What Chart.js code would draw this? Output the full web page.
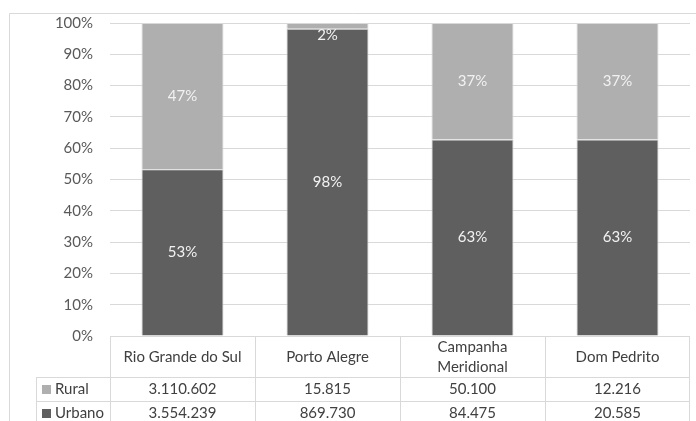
<!DOCTYPE html>
<html lang="pt">
<head>
  <meta charset="UTF-8" />
  <title>Urbano x Rural</title>
  <script src="https://cdn.jsdelivr.net/npm/chart.js"></script>
  <style>
    html, body { margin: 0; padding: 0; background: #fff; }
    #wrap { width: 696px; height: 421px; position: relative; }
  </style>
</head>
<body>
  <div id="wrap"><canvas id="chart" width="696" height="421"></canvas></div>

  <script>
    // values
    const categories = ["Rio Grande do Sul", "Porto Alegre", ["Campanha", "Meridional"], "Dom Pedrito"];
    const urbanoPct = [53.3, 98.2, 62.8, 62.8];
    const ruralPct = [46.7, 1.8, 37.2, 37.2];
    const ruralCount = ["3.110.602", "15.815", "50.100", "12.216"];
    const urbanoCount = ["3.554.239", "869.730", "84.475", "20.585"];
    const yTicks = [0, 10, 20, 30, 40, 50, 60, 70, 80, 90, 100];

    const FONT = "Lato, 'Open Sans', sans-serif";
    const GRID = "#d9d9d9";
    const TEXT = "#595959";
    const tableRows = [
      { label: "Rural", color: "#afafaf", values: ruralCount },
      { label: "Urbano", color: "#5f5f5f", values: urbanoCount }
    ];

    // frame + data table + bar labels
    const extras = {
      id: "extras",
      beforeDraw(chart) {
        const ctx = chart.ctx;
        ctx.save();
        ctx.strokeStyle = GRID;
        ctx.lineWidth = 1;
        ctx.beginPath();
        ctx.moveTo(9.5, 430);
        ctx.lineTo(9.5, 13.5);
        ctx.lineTo(700, 13.5);
        ctx.stroke();
        ctx.restore();
      },
      afterDraw(chart) {
        const ctx = chart.ctx;
        const x = chart.scales.x;
        const area = chart.chartArea;
        const half = (area.right - area.left) / categories.length / 2;
        const top = area.bottom;
        const rowY = [top, 377, 401, 425];
        const legendLeft = 36;

        ctx.save();
        ctx.strokeStyle = GRID;
        ctx.lineWidth = 1;
        ctx.beginPath();
        // horizontal lines
        ctx.moveTo(area.left, rowY[0] + 0.5); ctx.lineTo(area.right, rowY[0] + 0.5);
        ctx.moveTo(legendLeft, rowY[1] + 0.5); ctx.lineTo(area.right, rowY[1] + 0.5);
        ctx.moveTo(legendLeft, rowY[2] + 0.5); ctx.lineTo(area.right, rowY[2] + 0.5);
        // vertical lines
        ctx.moveTo(legendLeft + 0.5, rowY[1]); ctx.lineTo(legendLeft + 0.5, rowY[3]);
        categories.forEach((c, i) => {
          const l = Math.round(x.getPixelForValue(i) - half) + 0.5;
          ctx.moveTo(l, rowY[0]); ctx.lineTo(l, rowY[3]);
        });
        const r = Math.round(area.right) - 0.5;
        ctx.moveTo(r, rowY[0]); ctx.lineTo(r, rowY[3]);
        ctx.stroke();

        ctx.font = "15px " + FONT;
        ctx.fillStyle = "#404040";
        ctx.textAlign = "center";
        ctx.textBaseline = "middle";
        categories.forEach((c, i) => {
          const cx = x.getPixelForValue(i);
          const lines = Array.isArray(c) ? c : [c];
          const mid = (rowY[0] + rowY[1]) / 2 + 1;
          lines.forEach((t, k) => {
            ctx.fillText(t, cx, mid + (k - (lines.length - 1) / 2) * 20);
          });
        });
        tableRows.forEach((row, j) => {
          const cy = (rowY[j + 1] + rowY[j + 2]) / 2 + 0.5;
          ctx.fillStyle = row.color;
          ctx.fillRect(42, cy - 4.5, 9, 9);
          ctx.fillStyle = "#404040";
          ctx.textAlign = "left";
          ctx.fillText(row.label, 55, cy);
          ctx.textAlign = "center";
          row.values.forEach((v, i) => ctx.fillText(v, x.getPixelForValue(i), cy));
        });

        // percentage labels inside bars
        ctx.fillStyle = "#f2f2f2";
        chart.data.datasets.forEach((ds, d) => {
          chart.getDatasetMeta(d).data.forEach((bar, i) => {
            let cy = (bar.y + bar.base) / 2;
            cy = Math.max(cy, area.top + 12);
            ctx.fillText(Math.round(ds.data[i]) + "%", bar.x, cy);
          });
        });
        ctx.restore();
      }
    };

    new Chart(document.getElementById("chart"), {
      type: "bar",
      data: {
        labels: categories,
        datasets: [
          { label: "Urbano", data: urbanoPct, backgroundColor: "#5f5f5f", borderColor: "#d0d0d0", borderWidth: 1,
            categoryPercentage: 1, barPercentage: 0.566 },
          { label: "Rural", data: ruralPct, backgroundColor: "#afafaf", borderColor: "#d9d9d9", borderWidth: 1,
            categoryPercentage: 1, barPercentage: 0.566 }
        ]
      },
      options: {
        responsive: false,
        animation: false,
        layout: { padding: { left: 10, right: 6, top: 23, bottom: 0 } },
        plugins: { legend: { display: false }, tooltip: { enabled: false } },
        scales: {
          x: {
            stacked: true,
            grid: { display: false },
            border: { display: false },
            ticks: { display: false },
            afterFit: s => { s.height = 85; }
          },
          y: {
            stacked: true,
            min: 0,
            max: 100,
            afterBuildTicks: s => { s.ticks = yTicks.map(v => ({ value: v })); },
            afterFit: s => { s.width = 100; s.paddingTop = 0; s.paddingBottom = 0; },
            grid: { color: GRID, drawTicks: false },
            border: { display: false },
            ticks: {
              padding: 17,
              color: TEXT,
              font: { family: FONT, size: 15 },
              callback: v => v + "%"
            }
          }
        }
      },
      plugins: [extras]
    });
  </script>
</body>
</html>
